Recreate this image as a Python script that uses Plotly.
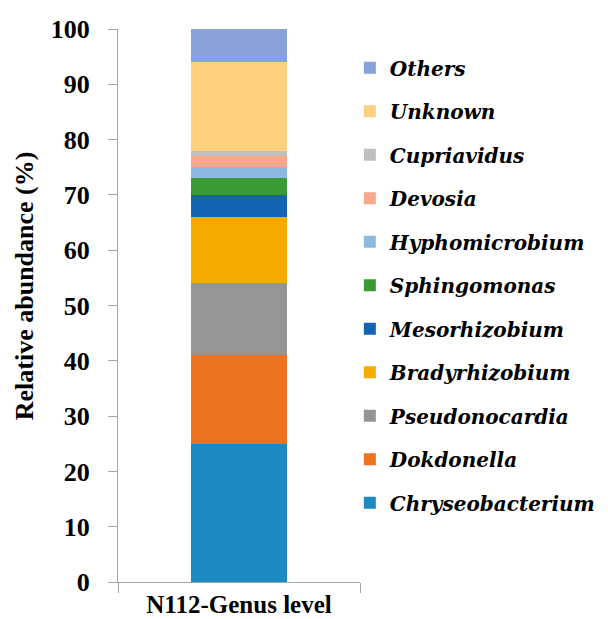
import plotly.graph_objects as go

category = ["N112-Genus level"]
genera = ["Chryseobacterium", "Dokdonella", "Pseudonocardia", "Bradyrhizobium",
          "Mesorhizobium", "Sphingomonas", "Hyphomicrobium", "Devosia",
          "Cupriavidus", "Unknown", "Others"]
values = [25, 16, 13, 12, 4, 3, 2, 2, 1, 16, 6]
colors = ["#1B8AC0", "#EE7220", "#959595", "#F5AC00", "#1464B4", "#3A9A35",
          "#8CB9E0", "#F9A98B", "#BFBFBF", "#FDD17E", "#86A2D8"]
y_ticks = list(range(0, 101, 10))

fig = go.Figure()
n = len(genera)
for i, (g, v, c) in enumerate(zip(genera, values, colors)):
    fig.add_trace(go.Bar(
        x=category, y=[v], name=g, marker=dict(color=c, line=dict(width=0)),
        legendgroup=g, legendrank=n - i, width=0.4,
    ))

font_family = "Liberation Serif"
fig.update_layout(
    barmode="stack",
    width=608, height=619,
    margin=dict(l=110, r=256, t=21, b=45, autoexpand=False),
    plot_bgcolor="white", paper_bgcolor="white",
    font=dict(family=font_family, color="black"),
    showlegend=True,
    legend=dict(
        traceorder="grouped", tracegroupgap=14.5,
        x=0.958, xanchor="left", y=0.965, yanchor="top",
        font=dict(family="DejaVu Serif", size=20, color="black", style="italic", weight="bold"),
        itemwidth=30, bgcolor="rgba(0,0,0,0)",
    ),
    xaxis=dict(
        range=[-0.5, 0.5], showline=True, linecolor="#A6A6A6", linewidth=1,
        ticks="outside", tickson="boundaries", ticklen=10, tickcolor="#A6A6A6",
        tickfont=dict(family=font_family, size=25, weight="bold"),
        ticklabelstandoff=0,
        showgrid=False, zeroline=False, automargin=False,
    ),
    yaxis=dict(
        range=[0, 100], tickvals=y_ticks, showline=True, linecolor="#A6A6A6",
        linewidth=1, ticks="outside", ticklen=9, tickcolor="#A6A6A6",
        tickfont=dict(family=font_family, size=26, weight="bold"),
        ticklabelstandoff=13,
        showgrid=False, zeroline=False, automargin=False,
    ),
    annotations=[dict(
        text="Relative abundance (%)", textangle=-90, xref="paper", yref="paper",
        x=-0.388, y=0.535, xanchor="center", yanchor="middle", showarrow=False,
        font=dict(family=font_family, size=26, weight="bold"),
    )],
)

fig.write_html("out.html")
